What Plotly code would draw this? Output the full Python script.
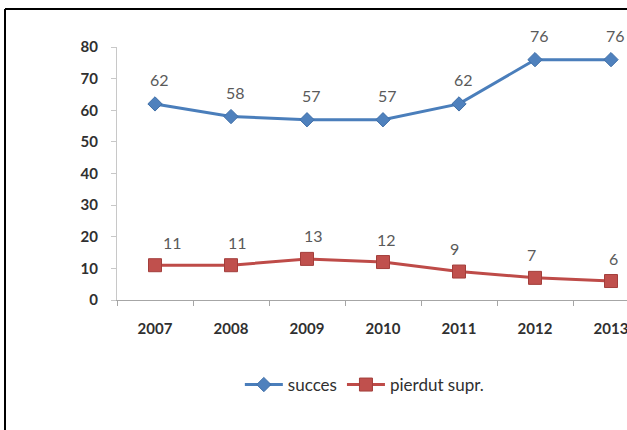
import plotly.graph_objects as go

years = ["2007", "2008", "2009", "2010", "2011", "2012", "2013"]
succes = [62, 58, 57, 57, 62, 76, 76]
pierdut = [11, 11, 13, 12, 9, 7, 6]
y_ticks = [0, 10, 20, 30, 40, 50, 60, 70, 80]

W, H = 627, 430
L, R, T, B = 117, 0, 47, 130
PW, PH = W - L - R, H - T - B

fig = go.Figure()
fig.add_trace(go.Scatter(
    x=years, y=succes, name="succes", mode="lines+markers",
    line=dict(color="#4A7EBB", width=3),
    marker=dict(symbol="diamond", size=11, color="#4F81BD",
                line=dict(color="#3F6FA8", width=1)),
    cliponaxis=False,
))
fig.add_trace(go.Scatter(
    x=years, y=pierdut, name="pierdut supr.", mode="lines+markers",
    line=dict(color="#BE4B48", width=3),
    marker=dict(symbol="square", size=13, color="#C0504D",
                line=dict(color="#A33E3B", width=1)),
    cliponaxis=False,
))

# value labels above each point (x given as category index)
label_font = dict(family="Lato, Open Sans, sans-serif", size=16, color="#5A5A5A")
for i, v in enumerate(succes):
    fig.add_annotation(x=i, y=v, xref="x", yref="y", text=str(v), showarrow=False,
                       yshift=24, xshift=4, font=label_font)
red_xshift = [17, 6, 6, 3, -5, -4, 2]
for i, (v, dx) in enumerate(zip(pierdut, red_xshift)):
    fig.add_annotation(x=i, y=v, xref="x", yref="y", text=str(v), showarrow=False,
                       yshift=23, xshift=dx, font=label_font)

# outer chart frame: left and top edges
fx = (5 - L) / PW
fy = (H - 9 - B) / PH
fig.add_shape(type="line", xref="paper", yref="paper", x0=fx, x1=fx,
              y0=-B / PH, y1=fy, line=dict(color="black", width=2))
fig.add_shape(type="line", xref="paper", yref="paper", x0=fx, x1=1.0,
              y0=fy, y1=fy, line=dict(color="black", width=2))

tick_font = dict(family="Lato, Open Sans, sans-serif", size=15, color="#303030", weight="bold")
fig.update_layout(
    width=W, height=H,
    margin=dict(l=L, r=R, t=T, b=B, pad=0),
    paper_bgcolor="white", plot_bgcolor="white",
    showlegend=True,
    legend=dict(orientation="h", x=0.485, xanchor="center", y=-0.336, yanchor="middle",
                font=dict(family="Lato, Open Sans, sans-serif", size=17, color="#303030"),
                tracegroupgap=0, itemwidth=38, bgcolor="rgba(0,0,0,0)"),
    xaxis=dict(type="category", range=[-0.5, -0.5 + PW / 76.0],
               showgrid=False, showline=True, linecolor="#A6A6A6", linewidth=1,
               ticks="outside", tickson="boundaries", ticklen=5, tickcolor="#A6A6A6",
               tickfont=tick_font, ticklabelstandoff=15, zeroline=False),
    yaxis=dict(range=[0, 80], tickvals=y_ticks, showgrid=False, showline=True,
               linecolor="#C8C8C8", linewidth=1, ticks="outside", ticklen=5,
               tickcolor="#C8C8C8", tickfont=tick_font, ticklabelstandoff=10,
               zeroline=False),
)

fig.write_html("out.html")
